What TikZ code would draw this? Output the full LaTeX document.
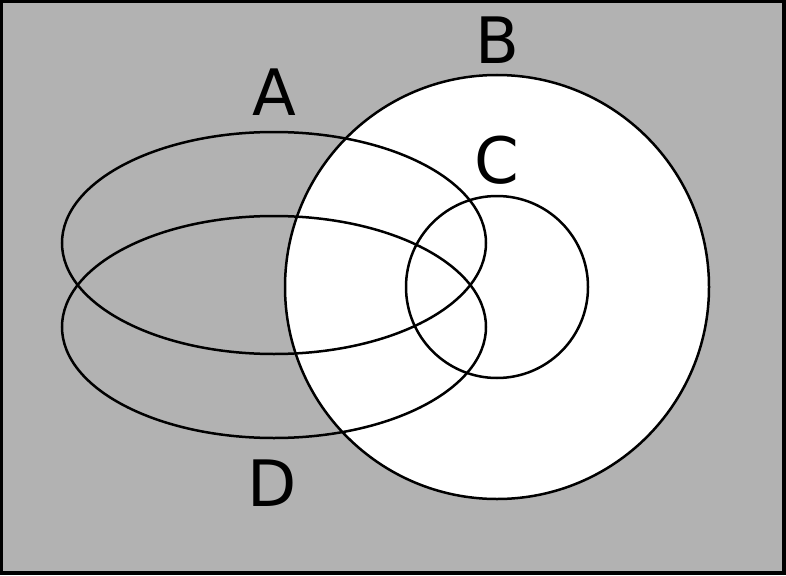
\documentclass[tikz,border=0pt]{standalone}
\usepackage{fontspec}
\setmainfont{DejaVu Sans}
\begin{document}
\begin{tikzpicture}[x=1pt,y=-1pt,
  setline/.style={draw=black,line width=2.5pt},
  lbl/.style={font=\fontsize{64}{64}\selectfont,inner sep=0pt,anchor=center}]
\useasboundingbox (0,0) rectangle (786,575);
\fill[black] (0,0) rectangle (786,575);
\fill[black!30] (3,3) rectangle (782,571);
\filldraw[fill=white,setline] (497,287) circle (212);
\draw[setline] (274,243) ellipse [x radius=212,y radius=111];
\draw[setline] (274,327) ellipse [x radius=212,y radius=111];
\draw[setline] (497,287) circle (91);
\node[lbl] (A) at (274,92) {A};
\node[lbl] (B) at (497,40) {B};
\node[lbl] (C) at (497,160) {C};
\node[lbl] (D) at (272,483) {D};
\end{tikzpicture}
\end{document}
